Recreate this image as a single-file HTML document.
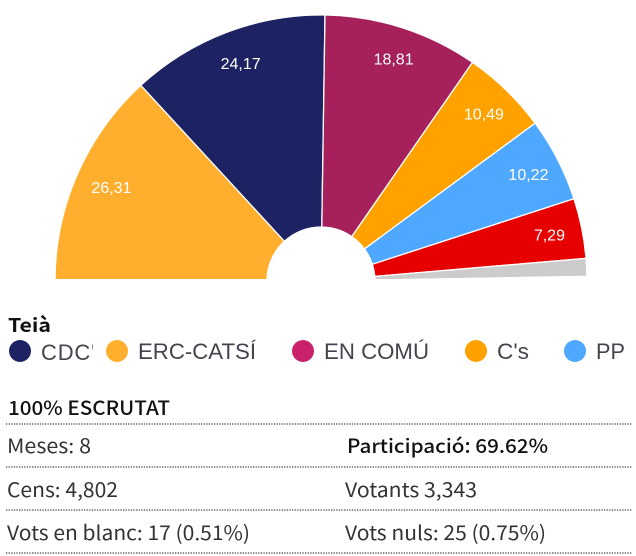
<!DOCTYPE html>
<html>
<head>
<meta charset="utf-8">
<title>Teià</title>
<style>
html,body{margin:0;padding:0;background:#fff;width:636px;height:556px;overflow:hidden}
svg{display:block;filter:blur(0.35px)}
svg text{font-family:"Liberation Sans",Arial,Helvetica,sans-serif}
svg text.lg{font-size:22px;fill:#44444e}
svg text.tb{font-family:"Noto Sans CJK SC","Noto Sans CJK JP","Liberation Sans",sans-serif;font-size:20px;fill:#333}
svg text.tbb{font-family:"Noto Sans CJK SC","Noto Sans CJK JP","Liberation Sans",sans-serif;font-size:19.5px;font-weight:500;fill:#111}
svg text.ttl{font-family:"Noto Sans CJK SC","Noto Sans CJK JP","Liberation Sans",sans-serif;font-size:19px;font-weight:700;fill:#111}
.rule{stroke:#444;stroke-width:1.2;stroke-dasharray:1.3 1.3}
</style>
</head>
<body>
<svg id="chart" width="636" height="556" viewBox="0 0 636 556" xmlns="http://www.w3.org/2000/svg">
  <defs><clipPath id="pie-clip"><rect x="0" y="0" width="636" height="279"/></clipPath>
  <clipPath id="cdc-clip"><rect x="38" y="335" width="55" height="32"/></clipPath></defs>
  <g id="pie" clip-path="url(#pie-clip)"></g>
  <g id="labels"></g>

  <text class="ttl" x="8" y="332" textLength="43" lengthAdjust="spacingAndGlyphs">Teià</text>

  <circle cx="20" cy="351" r="11" fill="#1d2362"/>
  <g clip-path="url(#cdc-clip)"><text class="lg" x="41" y="360" letter-spacing="0.8">CDC'</text></g>
  <circle cx="117" cy="351" r="11" fill="#ffae2e"/>
  <text class="lg" x="138" y="359" textLength="118" lengthAdjust="spacingAndGlyphs">ERC-CATSÍ</text>
  <circle cx="303" cy="351" r="11" fill="#c9226b"/>
  <text class="lg" x="324" y="359" textLength="105" lengthAdjust="spacingAndGlyphs">EN COMÚ</text>
  <circle cx="476" cy="351" r="11" fill="#ffa200"/>
  <text class="lg" x="497" y="359" textLength="32" lengthAdjust="spacingAndGlyphs">C's</text>
  <circle cx="575" cy="351" r="11" fill="#4fa8ff"/>
  <text class="lg" x="596" y="359" textLength="29" lengthAdjust="spacingAndGlyphs">PP</text>

  <text class="tbb" x="8" y="415" textLength="162" lengthAdjust="spacingAndGlyphs">100% ESCRUTAT</text>
  <line class="rule" x1="6" y1="424" x2="632" y2="424"/>
  <text class="tb" x="7" y="453" textLength="84" lengthAdjust="spacingAndGlyphs">Meses: 8</text>
  <text class="tbb" x="347" y="453" textLength="201" lengthAdjust="spacingAndGlyphs">Participació: 69.62%</text>
  <line class="rule" x1="6" y1="467" x2="632" y2="467"/>
  <text class="tb" x="7" y="497" textLength="111" lengthAdjust="spacingAndGlyphs">Cens: 4,802</text>
  <text class="tb" x="345" y="497" textLength="132" lengthAdjust="spacingAndGlyphs">Votants 3,343</text>
  <line class="rule" x1="6" y1="510" x2="632" y2="510"/>
  <text class="tb" x="7" y="540" textLength="243" lengthAdjust="spacingAndGlyphs">Vots en blanc: 17 (0.51%)</text>
  <text class="tb" x="345" y="540" textLength="201" lengthAdjust="spacingAndGlyphs">Vots nuls: 25 (0.75%)</text>
  <line class="rule" x1="6" y1="553" x2="632" y2="553"/>
</svg>
<script>
const parties = ['ERC-CATSI', 'CDC', 'EN COMU', 'Cs', 'PP', 'PSC', 'Altres', 'Resta'];
const shares = [26.31, 24.17, 18.81, 10.49, 10.22, 7.29, 2.16, 0.55];
const printed = ['26,31', '24,17', '18,81', '10,49', '10,22', '7,29', '', ''];
const sliceColors = ['#ffae2e', '#1d2362', '#a6215c', '#ffa200', '#4fa8ff', '#e60000', '#cccccc', '#ffffff'];

const NS = 'http://www.w3.org/2000/svg';
const cx = 321, cy = 281, rOuter = 266, rInner = 54;
const labelCx = 323, labelRx = 231, labelRy = 233;
const total = shares.reduce(function (a, b) { return a + b; }, 0);
function angleAt(v) { return Math.PI * v / total; }
function px(r, a) { return cx - r * Math.cos(a); }
function py(r, a) { return cy - r * Math.sin(a); }

const pie = document.getElementById('pie');
const labels = document.getElementById('labels');
let cum = 0;
shares.forEach(function (v, i) {
  const a0 = angleAt(cum), a1 = angleAt(cum + v);
  const d = 'M' + px(rInner, a0) + ' ' + py(rInner, a0) +
    ' L' + px(rOuter, a0) + ' ' + py(rOuter, a0) +
    ' A' + rOuter + ' ' + rOuter + ' 0 0 1 ' + px(rOuter, a1) + ' ' + py(rOuter, a1) +
    ' L' + px(rInner, a1) + ' ' + py(rInner, a1) +
    ' A' + rInner + ' ' + rInner + ' 0 0 0 ' + px(rInner, a0) + ' ' + py(rInner, a0) + ' Z';
  const p = document.createElementNS(NS, 'path');
  p.setAttribute('d', d);
  p.setAttribute('fill', sliceColors[i]);
  p.setAttribute('stroke', '#fff');
  p.setAttribute('stroke-width', '1.3');
  
  
  pie.appendChild(p);
  if (printed[i]) {
    const mid = angleAt(cum + v / 2);
    const t = document.createElementNS(NS, 'text');
    t.setAttribute('x', labelCx - labelRx * Math.cos(mid));
    t.setAttribute('y', cy - labelRy * Math.sin(mid) + 5.5);
    t.setAttribute('text-anchor', 'middle');
    t.setAttribute('font-size', '16');
    t.setAttribute('fill', '#fff');
    t.textContent = printed[i];
    
    
    labels.appendChild(t);
  }
  cum += v;
});
</script>
</body>
</html>
